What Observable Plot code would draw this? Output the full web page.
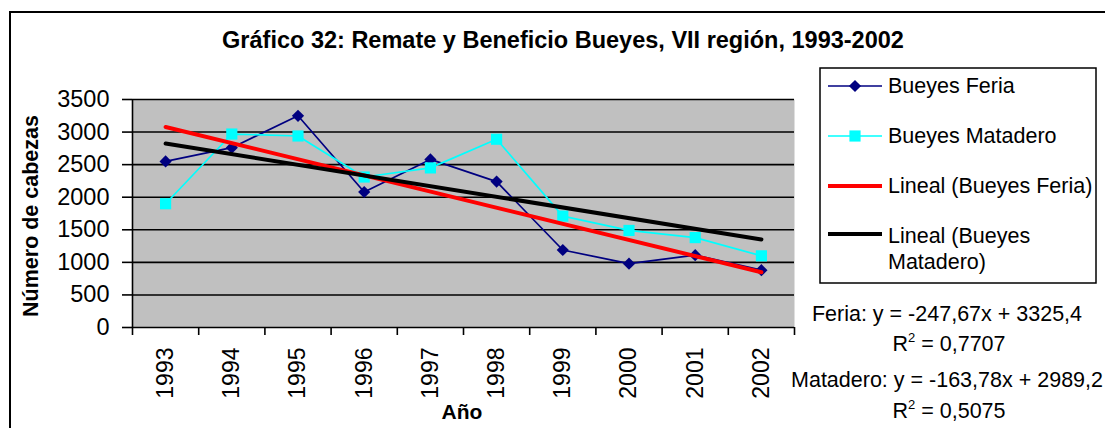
<!DOCTYPE html>
<html>
<head>
<meta charset="utf-8">
<script src="https://cdn.jsdelivr.net/npm/d3@7"></script>
<script src="https://cdn.jsdelivr.net/npm/@observablehq/plot@0.6"></script>
<style>
  html, body { margin: 0; padding: 0; background: #fff; overflow: hidden; }
  #wrap { position: relative; width: 1105px; height: 428px; font-family: "Liberation Sans", Arial, sans-serif; }
  #wrap svg { position: absolute; left: 0; top: 0; }
</style>
</head>
<body>
<div id="wrap"></div>
<script>
// ---- data ----
const years = ["1993","1994","1995","1996","1997","1998","1999","2000","2001","2002"];
const feria = [2550, 2760, 3250, 2080, 2580, 2240, 1190, 980, 1110, 880];
const matadero = [1900, 2970, 2940, 2310, 2450, 2890, 1710, 1490, 1380, 1100];
const trendNames = ["Lineal (Bueyes Feria)", "Lineal (Bueyes Matadero)"];
const trendSlopes = [-247.67, -163.78];
const trendIntercepts = [3325.4, 2989.2];
const yTicks = [0, 500, 1000, 1500, 2000, 2500, 3000, 3500];
const seriesNames = ["Bueyes Feria", "Bueyes Matadero"];
const title = "Gráfico 32: Remate y Beneficio Bueyes, VII región, 1993-2002";
const xTitle = "Año";
const yTitle = "Número de cabezas";
const eqLines = [
  ["Feria: y = -247,67x + 3325,4", "0,7707"],
  ["Matadero: y = -163,78x + 2989,2", "0,5075"]
];

// ---- build ----
const FONT = "'Liberation Sans', Arial, sans-serif";
const feriaData = years.map((y, i) => ({x: i + 0.5, v: feria[i]}));
const matData = years.map((y, i) => ({x: i + 0.5, v: matadero[i]}));
const trendData = trendSlopes.map((a, k) =>
  [0, years.length - 1].map(i => ({x: i + 0.5, v: a * (i + 1) + trendIntercepts[k]})));

const W = 1105, H = 428;
const chart = Plot.plot({
  width: W, height: H,
  marginLeft: 132, marginRight: 311, marginTop: 99, marginBottom: 101,
  x: {domain: [0, years.length], axis: null},
  y: {domain: [0, 3500], axis: null},
  style: {fontFamily: FONT, background: "transparent", color: "black", overflow: "visible"},
  marks: [
    Plot.frame({fill: "#C0C0C0", stroke: null}),
    Plot.ruleY(yTicks, {stroke: "black", strokeWidth: 1.6}),
    Plot.ruleX([0], {stroke: "black", strokeWidth: 1.6}),
    Plot.axisY({ticks: yTicks, tickSize: 10, tickPadding: 13, fontSize: 23.5, label: null,
                tickFormat: d => String(d), strokeWidth: 1.6}),
    Plot.axisX({ticks: d3.range(years.length + 1), tickSize: 8, tickFormat: () => "", label: null, strokeWidth: 1.6}),
    Plot.axisX({ticks: years.map((y, i) => i + 0.5), tickSize: 0, tickPadding: 20, tickRotate: -90,
                tickFormat: d => years[Math.floor(d)], fontSize: 23, label: null}),
    Plot.line(feriaData, {x: "x", y: "v", stroke: "#000080", strokeWidth: 1.7}),
    Plot.dot(feriaData, {x: "x", y: "v", symbol: "diamond2", fill: "#000080", r: 5.5}),
    Plot.line(matData, {x: "x", y: "v", stroke: "#00FFFF", strokeWidth: 1.7}),
    Plot.dot(matData, {x: "x", y: "v", symbol: "square", fill: "#00FFFF", r: 6.3}),
    Plot.line(trendData[0], {x: "x", y: "v", stroke: "#FF0000", strokeWidth: 4}),
    Plot.line(trendData[1], {x: "x", y: "v", stroke: "#000000", strokeWidth: 4})
  ]
});
const wrap = document.getElementById("wrap");
wrap.appendChild(chart);

// ---- overlay: frame, titles, legend, equations ----
const svg = d3.select(wrap).append("svg").attr("width", W).attr("height", H)
  .style("font-family", FONT);
svg.append("rect").attr("x", 10).attr("y", 12).attr("width", W).attr("height", H)
  .attr("fill", "none").attr("stroke", "black").attr("stroke-width", 2);
svg.append("text").attr("x", 563).attr("y", 48).attr("text-anchor", "middle")
  .attr("font-size", 23.5).attr("font-weight", "bold").text(title);
svg.append("text").attr("x", 462).attr("y", 419).attr("text-anchor", "middle")
  .attr("font-size", 21).attr("font-weight", "bold").text(xTitle);
svg.append("text").attr("transform", "translate(38,216) rotate(-90)").attr("text-anchor", "middle")
  .attr("font-size", 21.5).attr("font-weight", "bold").text(yTitle);

// legend
const lg = svg.append("g");
lg.append("rect").attr("x", 820).attr("y", 68).attr("width", 276).attr("height", 215)
  .attr("fill", "white").attr("stroke", "black").attr("stroke-width", 1.5);
const legendItems = [
  {name: seriesNames[0], color: "#000080", w: 1.7, sym: d3.symbolDiamond2, r: 5.5},
  {name: seriesNames[1], color: "#00FFFF", w: 1.7, sym: d3.symbolSquare, r: 6.3},
  {name: trendNames[0], color: "#FF0000", w: 4},
  {name: trendNames[1], color: "#000000", w: 4}
];
const rowY = [86, 136, 186, 236];
legendItems.forEach((it, i) => {
  const y = rowY[i];
  const ly = i === 3 ? 234 : y;
  lg.append("line").attr("x1", 828).attr("x2", 882).attr("y1", ly).attr("y2", ly)
    .attr("stroke", it.color).attr("stroke-width", it.w);
  if (it.sym) {
    lg.append("path").attr("transform", `translate(855,${ly})`)
      .attr("d", d3.symbol(it.sym, Math.PI * it.r * it.r)()).attr("fill", it.color);
  }
  const t = lg.append("text").attr("x", 888).attr("y", y).attr("font-size", 21.5)
    .attr("dominant-baseline", "central");
  if (i === 3) {
    t.append("tspan").attr("x", 888).text("Lineal (Bueyes");
    t.append("tspan").attr("x", 888).attr("dy", 26).text("Matadero)");
  } else {
    t.text(it.name);
  }
});

// equations
const eqBase = [[321, 351], [387, 418]];
eqLines.forEach((eq, k) => {
  svg.append("text").attr("x", 947).attr("y", eqBase[k][0]).attr("text-anchor", "middle")
    .attr("font-size", 21.5).text(eq[0]);
  const r = svg.append("text").attr("x", 949).attr("y", eqBase[k][1]).attr("text-anchor", "middle")
    .attr("font-size", 21.5);
  r.append("tspan").text("R");
  r.append("tspan").attr("font-size", 13).attr("dy", -9).text("2");
  r.append("tspan").attr("dy", 9).text(" = " + eq[1]);
});
</script>
</body>
</html>
